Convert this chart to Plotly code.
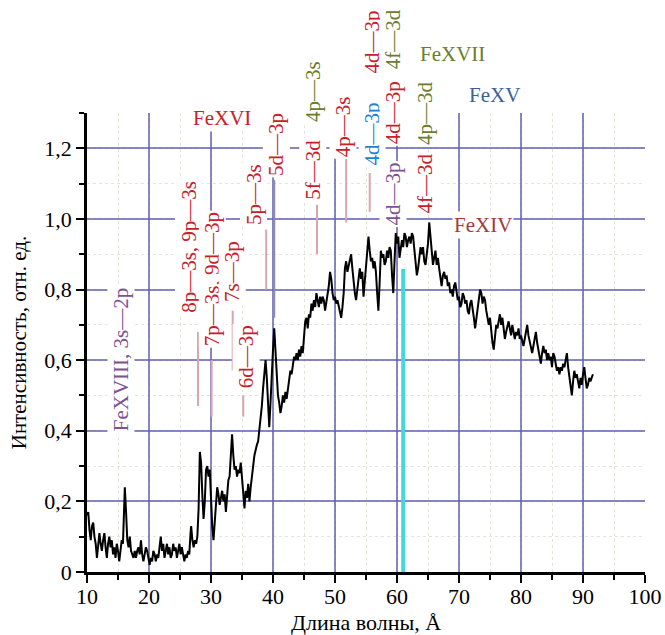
import plotly.graph_objects as go

# ---------------- data ----------------
wavelength = [
    10.0, 10.2, 10.4, 10.6, 10.8, 11.0, 11.2, 11.4, 11.6, 11.8, 12.0, 12.2, 12.4, 12.6, 12.8,
    13.0, 13.2, 13.4, 13.6, 13.8, 14.0, 14.2, 14.4, 14.6, 14.8, 15.0, 15.2, 15.4, 15.6, 15.8,
    16.0, 16.1, 16.3, 16.5, 16.7, 16.9, 17.1, 17.3, 17.5, 17.7, 17.9, 18.1, 18.3, 18.5, 18.7,
    18.9, 19.1, 19.3, 19.5, 19.7, 19.9, 20.1, 20.3, 20.5, 20.7, 20.9, 21.1, 21.3, 21.5, 21.7,
    21.9, 22.1, 22.3, 22.5, 22.7, 22.9, 23.1, 23.3, 23.5, 23.7, 23.9, 24.1, 24.3, 24.5, 24.7,
    24.9, 25.1, 25.3, 25.5, 25.7, 25.9, 26.1, 26.3, 26.5, 26.7, 26.8, 27.0, 27.2, 27.4, 27.6,
    27.8, 28.0, 28.2, 28.4, 28.6, 28.8, 29.0, 29.2, 29.4, 29.6, 29.8, 30.0, 30.2, 30.4, 30.6,
    30.8, 31.0, 31.2, 31.4, 31.6, 31.8, 32.0, 32.2, 32.4, 32.6, 32.8, 33.0, 33.2, 33.4, 33.6,
    33.8, 34.0, 34.2, 34.4, 34.6, 34.8, 35.0, 35.2, 35.4, 35.6, 35.8, 36.0, 36.2, 36.4, 36.6,
    36.8, 37.0, 37.2, 37.4, 37.6, 37.8, 38.0, 38.2, 38.4, 38.6, 38.8, 39.0, 39.2, 39.4, 39.6,
    39.8, 40.0, 40.2, 40.4, 40.6, 40.8, 41.0, 41.2, 41.4, 41.6, 41.8, 42.0, 42.2, 42.4, 42.6,
    42.8, 43.0, 43.2, 43.4, 43.6, 43.8, 44.0, 44.2, 44.4, 44.6, 44.8, 45.0, 45.2, 45.4, 45.6,
    45.8, 46.0, 46.2, 46.4, 46.6, 46.8, 47.0, 47.2, 47.4, 47.6, 47.8, 48.0, 48.2, 48.4, 48.6,
    48.8, 49.0, 49.2, 49.4, 49.6, 49.8, 50.0, 50.2, 50.4, 50.6, 50.8, 51.0, 51.2, 51.4, 51.6,
    51.8, 52.0, 52.2, 52.4, 52.6, 52.8, 53.0, 53.2, 53.4, 53.6, 53.8, 54.0, 54.2, 54.4, 54.6,
    54.8, 55.0, 55.2, 55.4, 55.6, 55.8, 56.0, 56.2, 56.4, 56.6, 56.8, 57.0, 57.2, 57.4, 57.6,
    57.8, 58.0, 58.2, 58.4, 58.6, 58.8, 59.0, 59.2, 59.4, 59.6, 59.8, 60.0, 60.2, 60.4, 60.6,
    60.8, 61.0, 61.2, 61.4, 61.6, 61.8, 62.0, 62.2, 62.4, 62.6, 62.8, 63.0, 63.2, 63.4, 63.6,
    63.8, 64.0, 64.2, 64.4, 64.6, 64.8, 65.0, 65.2, 65.4, 65.6, 65.8, 66.0, 66.2, 66.4, 66.6,
    66.8, 67.0, 67.2, 67.4, 67.6, 67.8, 68.0, 68.2, 68.4, 68.6, 68.8, 69.0, 69.2, 69.4, 69.6,
    69.8, 70.0, 70.2, 70.4, 70.6, 70.8, 71.0, 71.2, 71.4, 71.6, 71.8, 72.0, 72.2, 72.4, 72.6,
    72.8, 73.0, 73.2, 73.4, 73.6, 73.8, 74.0, 74.2, 74.4, 74.6, 74.8, 75.0, 75.2, 75.4, 75.6,
    75.8, 76.0, 76.2, 76.4, 76.6, 76.8, 77.0, 77.2, 77.4, 77.6, 77.8, 78.0, 78.2, 78.4, 78.6,
    78.8, 79.0, 79.2, 79.4, 79.6, 79.8, 80.0, 80.2, 80.4, 80.6, 80.8, 81.0, 81.2, 81.4, 81.6,
    81.8, 82.0, 82.2, 82.4, 82.6, 82.8, 83.0, 83.2, 83.4, 83.6, 83.8, 84.0, 84.2, 84.4, 84.6,
    84.8, 85.0, 85.2, 85.4, 85.6, 85.8, 86.0, 86.2, 86.4, 86.6, 86.8, 87.0, 87.2, 87.4, 87.6,
    87.8, 88.0, 88.2, 88.4, 88.6, 88.8, 89.0, 89.2, 89.4, 89.6, 89.8, 90.0, 90.2, 90.4, 90.6,
    90.8, 91.0, 91.2, 91.4, 91.6,
]
intensity = [
    0.16, 0.17, 0.12, 0.09, 0.13, 0.14, 0.10, 0.08, 0.04, 0.07, 0.11, 0.08, 0.06, 0.09, 0.11,
    0.07, 0.04, 0.08, 0.10, 0.07, 0.09, 0.05, 0.07, 0.04, 0.08, 0.06, 0.03, 0.06, 0.09, 0.08,
    0.18, 0.24, 0.17, 0.09, 0.07, 0.10, 0.06, 0.05, 0.04, 0.06, 0.04, 0.06, 0.07, 0.05, 0.09,
    0.05, 0.03, 0.05, 0.07, 0.06, 0.04, 0.02, 0.04, 0.03, 0.06, 0.05, 0.03, 0.05, 0.04, 0.07,
    0.10, 0.06, 0.08, 0.04, 0.06, 0.08, 0.05, 0.07, 0.04, 0.05, 0.08, 0.06, 0.07, 0.04, 0.06,
    0.08, 0.05, 0.07, 0.05, 0.03, 0.05, 0.04, 0.06, 0.05, 0.11, 0.13, 0.09, 0.07, 0.09, 0.08,
    0.10, 0.18, 0.34, 0.31, 0.22, 0.15, 0.20, 0.29, 0.30, 0.27, 0.29, 0.20, 0.13, 0.09, 0.14,
    0.19, 0.24, 0.22, 0.19, 0.21, 0.23, 0.20, 0.22, 0.17, 0.21, 0.26, 0.27, 0.35, 0.39, 0.33,
    0.29, 0.30, 0.27, 0.29, 0.28, 0.31, 0.26, 0.23, 0.18, 0.23, 0.21, 0.25, 0.20, 0.24, 0.28,
    0.30, 0.33, 0.35, 0.36, 0.37, 0.40, 0.43, 0.47, 0.52, 0.56, 0.60, 0.55, 0.45, 0.41, 0.48,
    0.58, 0.63, 0.69, 0.62, 0.55, 0.50, 0.48, 0.45, 0.47, 0.50, 0.48, 0.51, 0.49, 0.52, 0.55,
    0.57, 0.56, 0.58, 0.61, 0.60, 0.62, 0.60, 0.63, 0.61, 0.64, 0.62, 0.66, 0.71, 0.72, 0.69,
    0.73, 0.72, 0.76, 0.74, 0.77, 0.75, 0.79, 0.77, 0.75, 0.78, 0.76, 0.78, 0.77, 0.74, 0.76,
    0.79, 0.81, 0.85, 0.83, 0.79, 0.77, 0.78, 0.76, 0.77, 0.75, 0.73, 0.72, 0.75, 0.79, 0.86,
    0.88, 0.85, 0.87, 0.89, 0.90, 0.86, 0.82, 0.79, 0.77, 0.80, 0.84, 0.86, 0.83, 0.85, 0.78,
    0.83, 0.88, 0.92, 0.95, 0.91, 0.88, 0.89, 0.86, 0.88, 0.85, 0.79, 0.74, 0.82, 0.91, 0.89,
    0.90, 0.87, 0.88, 0.91, 0.89, 0.92, 0.91, 0.84, 0.79, 0.88, 0.96, 0.93, 0.95, 0.89, 0.91,
    0.94, 0.92, 0.96, 0.95, 0.92, 0.94, 0.95, 0.93, 0.96, 0.95, 0.91, 0.87, 0.84, 0.86, 0.89,
    0.92, 0.90, 0.92, 0.88, 0.87, 0.90, 0.93, 0.99, 0.94, 0.90, 0.87, 0.89, 0.91, 0.87, 0.89,
    0.86, 0.83, 0.81, 0.84, 0.85, 0.83, 0.84, 0.81, 0.82, 0.79, 0.80, 0.78, 0.81, 0.82, 0.80,
    0.77, 0.78, 0.75, 0.76, 0.79, 0.78, 0.76, 0.77, 0.74, 0.73, 0.76, 0.77, 0.75, 0.72, 0.69,
    0.72, 0.75, 0.78, 0.80, 0.79, 0.76, 0.78, 0.77, 0.74, 0.72, 0.70, 0.72, 0.68, 0.65, 0.63,
    0.66, 0.70, 0.69, 0.71, 0.73, 0.70, 0.72, 0.69, 0.66, 0.68, 0.70, 0.71, 0.69, 0.67, 0.70,
    0.68, 0.66, 0.68, 0.67, 0.69, 0.66, 0.67, 0.65, 0.64, 0.66, 0.68, 0.70, 0.67, 0.65, 0.63,
    0.62, 0.64, 0.66, 0.68, 0.65, 0.63, 0.61, 0.59, 0.62, 0.64, 0.62, 0.63, 0.60, 0.62, 0.60,
    0.61, 0.58, 0.62, 0.61, 0.59, 0.57, 0.58, 0.56, 0.58, 0.57, 0.59, 0.58, 0.60, 0.62, 0.58,
    0.55, 0.52, 0.50, 0.54, 0.57, 0.55, 0.56, 0.54, 0.52, 0.55, 0.53, 0.56, 0.58, 0.55, 0.52,
    0.53, 0.55, 0.54, 0.55, 0.56,
]

# cyan reference line (wavelength, height)
cyan_line_x = 61.0
cyan_line_top = 0.858

# line labels: text, colour key, wavelength, centre height (intensity units)
rot_labels = [
    ("FeXVIII, 3s\u20142p", "purple", 15.5, 0.60),
    ("8p\u20143s, 9p\u20143s", "red", 26.4, 0.92),
    ("7p\u20143s, 9d\u20143p", "red", 30.2, 0.83),
    ("7s\u20143p", "red", 33.4, 0.85),
    ("6d\u20143p", "red", 35.6, 0.61),
    ("5p\u20143s", "red", 36.9, 1.07),
    ("5d\u20143p", "red", 40.5, 1.21),
    ("5f\u20143d", "red", 46.5, 1.14),
    ("4p\u20143s", "green", 46.5, 1.36),
    ("4p\u20143s", "red", 51.3, 1.26),
    ("4d\u20143p", "blue", 56.0, 1.24),
    ("4d\u20143p", "red", 56.0, 1.50),
    ("4f\u20143d", "green", 59.4, 1.51),
    ("4d\u20143p", "red", 59.4, 1.30),
    ("4d\u20143p", "purple", 59.4, 1.07),
    ("4p\u20143d", "green", 64.5, 1.30),
    ("4f\u20143d", "red", 64.5, 1.10),
]
ion_labels = [
    ("FeXVI", "red", 31.8, 1.287),
    ("FeXVII", "green", 69.0, 1.466),
    ("FeXV", "steel", 75.8, 1.352),
    ("FeXIV", "darkred", 73.9, 0.983),
]
# marker ticks under labels: wavelength, y from, y to, colour key
mark_lines = [
    (27.9, 0.47, 0.68, "pink"),
    (30.1, 0.44, 0.60, "pink"),
    (33.5, 0.57, 0.74, "pink"),
    (35.2, 0.44, 0.50, "pink"),
    (38.9, 0.80, 0.97, "pink"),
    (40.2, 0.72, 1.11, "lilac"),
    (47.1, 0.90, 1.04, "pink"),
    (51.8, 0.99, 1.17, "pink"),
    (55.6, 1.02, 1.13, "pink"),
]

x_ticks = [10, 20, 30, 40, 50, 60, 70, 80, 90, 100]
y_ticks = [0, 0.2, 0.4, 0.6, 0.8, 1.0, 1.2]
y_ticktext = ["0", "0,2", "0,4", "0,6", "0,8", "1,0", "1,2"]

colors = {
    "red": "#c8202a",
    "green": "#6b7d2c",
    "blue": "#1f80d2",
    "purple": "#7c5294",
    "steel": "#3d5f98",
    "darkred": "#a23a3a",
    "pink": "#d9a6ad",
    "lilac": "#9088b0",
}

FONT = "Liberation Serif, Times New Roman, serif"
Y_MAX = 1.3

fig = go.Figure()

fig.add_trace(go.Scatter(
    x=wavelength, y=intensity, mode="lines",
    line=dict(color="black", width=2), showlegend=False,
))

shapes = []
for wl, y0, y1, ck in mark_lines:
    shapes.append(dict(type="line", xref="x", yref="y", x0=wl, x1=wl, y0=y0, y1=y1,
                       line=dict(color=colors[ck], width=2), layer="above"))
shapes.append(dict(type="line", xref="x", yref="y", x0=cyan_line_x, x1=cyan_line_x,
                   y0=0, y1=cyan_line_top, line=dict(color="#45d6e0", width=4), layer="above"))

annotations = []
for txt, ck, wl, yc in rot_labels:
    annotations.append(dict(
        text=txt, x=wl, xref="x", y=yc / Y_MAX, yref="paper",
        xanchor="center", yanchor="middle", textangle=-90, showarrow=False,
        font=dict(family=FONT, size=21, color=colors[ck]),
        bgcolor="white", borderpad=1,
    ))
for txt, ck, wl, yc in ion_labels:
    annotations.append(dict(
        text=txt, x=wl, xref="x", y=yc / Y_MAX, yref="paper",
        xanchor="center", yanchor="middle", showarrow=False,
        font=dict(family=FONT, size=21, color=colors[ck]),
        bgcolor="white", borderpad=1,
    ))

fig.update_layout(
    width=665, height=635,
    margin=dict(l=87, r=20, t=113, b=63, autoexpand=False),
    paper_bgcolor="white", plot_bgcolor="white",
    font=dict(family=FONT, size=21, color="black"),
    shapes=shapes, annotations=annotations,
    showlegend=False,
)

fig.update_xaxes(
    range=[10, 100], tickvals=x_ticks, automargin=False,
    showline=True, linecolor="black", linewidth=2.5,
    ticks="outside", ticklen=8, tickwidth=2, tickcolor="black",
    ticklabelstandoff=-5,
    showgrid=True, gridcolor="rgba(95,95,175,0.75)", gridwidth=1.5,
    zeroline=False,
    minor=dict(dtick=5, ticks="outside", ticklen=5, tickwidth=2, tickcolor="black",
               showgrid=True, gridcolor="#dfe8d8", gridwidth=1, griddash="dot"),
    tickfont=dict(family=FONT, size=22, color="black"),
    title=dict(text="\u0414\u043b\u0438\u043d\u0430 \u0432\u043e\u043b\u043d\u044b, \u00c5",
               font=dict(family=FONT, size=22, color="black"), standoff=9),
)
fig.update_yaxes(
    range=[0, Y_MAX], tickvals=y_ticks, ticktext=y_ticktext, automargin=False,
    showline=True, linecolor="black", linewidth=2.5,
    ticks="outside", ticklen=8, tickwidth=2, tickcolor="black",
    showgrid=True, gridcolor="rgba(95,95,175,0.75)", gridwidth=1.5,
    zeroline=False,
    minor=dict(dtick=0.1, ticks="outside", ticklen=5, tickwidth=2, tickcolor="black",
               showgrid=True, gridcolor="#e2e6e0", gridwidth=1, griddash="dot"),
    tickfont=dict(family=FONT, size=22, color="black"),
    title=dict(text="\u0418\u043d\u0442\u0435\u043d\u0441\u0438\u0432\u043d\u043e\u0441\u0442\u044c, \u043e\u0442\u043d. \u0435\u0434.",
               font=dict(family=FONT, size=21, color="black"), standoff=12),
)

fig.write_html("out.html")
